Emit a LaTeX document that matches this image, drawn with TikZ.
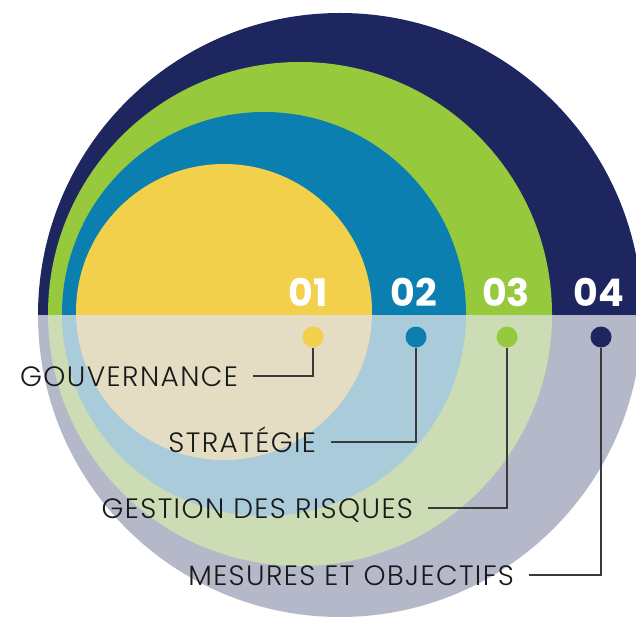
\documentclass[tikz,border=0pt]{standalone}
\usepackage{fontspec}
\IfFontExistsTF{Poppins Light}
  {\newfontfamily\lblfont{Poppins Light}[LetterSpace=5]}
  {\newfontfamily\lblfont{Poppins}[LetterSpace=5]}
\newfontfamily\numfont{Poppins}
\definecolor{cnavy}{HTML}{1D265E}
\definecolor{cgreen}{HTML}{97C93D}
\definecolor{cblue}{HTML}{0A7FB0}
\definecolor{cyellow}{HTML}{F2D04C}
\definecolor{cnavylo}{HTML}{B4B8C9}
\definecolor{cgreenlo}{HTML}{CCDCB4}
\definecolor{cbluelo}{HTML}{AACBD9}
\definecolor{cyellowlo}{HTML}{E4DDC4}
\definecolor{cline}{HTML}{3A3A3A}
\begin{document}
\begin{tikzpicture}[x=1pt,y=-1pt,
  dotn/.style={circle,inner sep=0pt,minimum size=21pt},
  lbl/.style={inner sep=0pt,outer xsep=15pt,anchor=east,text height=20pt,text depth=0pt,
    font=\lblfont\fontsize{28}{30}\selectfont,text=black!90},
  num/.style={inner sep=0pt,text=white,font=\numfont\bfseries\fontsize{38}{40}\selectfont},
  conn/.style={draw=cline,line width=1.3pt}]
\useasboundingbox (0,0) rectangle (636,617);
% upper half, full colours
\begin{scope}
  \clip (0,0) rectangle (636,315.5);
  \fill[cnavy]   (340,315) circle[radius=302pt];
  \fill[cgreen]  (300,314) circle[radius=252pt];
  \fill[cblue]   (264,314) circle[radius=202pt];
  \fill[cyellow] (224,312) circle[radius=148pt];
\end{scope}
% lower half, washed colours
\begin{scope}
  \clip (0,315.5) rectangle (636,617);
  \fill[cnavylo]   (340,315) circle[radius=302pt];
  \fill[cgreenlo]  (300,314) circle[radius=252pt];
  \fill[cbluelo]   (264,314) circle[radius=202pt];
  \fill[cyellowlo] (224,312) circle[radius=148pt];
\end{scope}
% numbers
\node[num] (n1) at (308,292) {01};
\node[num] (n2) at (413.5,292) {02};
\node[num] (n3) at (506,292) {03};
\node[num] (n4) at (598.5,292) {04};
% dots
\node[dotn,fill=cyellow] (d1) at (313,337) {};
\node[dotn,fill=cblue]   (d2) at (416,337) {};
\node[dotn,fill=cgreen]  (d3) at (507,337) {};
\node[dotn,fill=cnavy]   (d4) at (601,337) {};
% labels
\node[lbl] (l1) at (253,376) {GOUVERNANCE};
\node[lbl] (l2) at (331,442) {STRATÉGIE};
\node[lbl] (l3) at (428,508) {GESTION DES RISQUES};
\node[lbl] (l4) at (529,575) {MESURES ET OBJECTIFS};
% connectors
\draw[conn] (d1.south) |- (l1.east);
\draw[conn] (d2.south) |- (l2.east);
\draw[conn] (d3.south) |- (l3.east);
\draw[conn] (d4.south) |- (l4.east);
\end{tikzpicture}
\end{document}
